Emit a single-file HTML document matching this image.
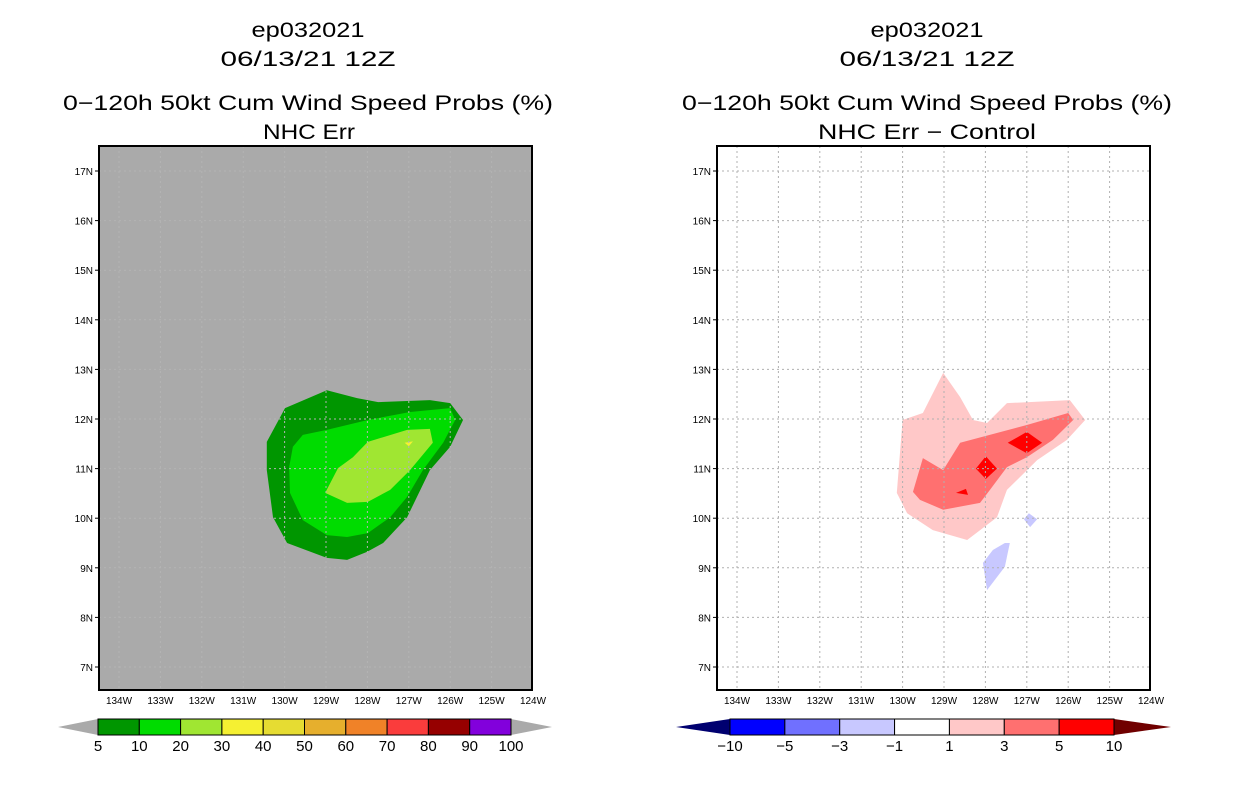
<!DOCTYPE html>
<html><head><meta charset="utf-8"><style>
body{margin:0;background:#fff;width:1236px;height:800px;overflow:hidden}
svg{display:block;font-family:"Liberation Sans",sans-serif}
</style></head><body>
<svg id="s" width="1236" height="800">
<g font-size="21" text-anchor="middle" fill="#000" lengthAdjust="spacingAndGlyphs">
<text x="308" y="37" textLength="113" lengthAdjust="spacingAndGlyphs">ep032021</text><text x="308" y="66" textLength="175" lengthAdjust="spacingAndGlyphs">06/13/21 12Z</text>
<text x="308" y="110" textLength="490" lengthAdjust="spacingAndGlyphs">0−120h 50kt Cum Wind Speed Probs (%)</text><text x="309" y="139" textLength="92" lengthAdjust="spacingAndGlyphs">NHC Err</text></g>
<g font-size="21" text-anchor="middle" fill="#000">
<text x="927" y="37" textLength="113" lengthAdjust="spacingAndGlyphs">ep032021</text><text x="927" y="66" textLength="175" lengthAdjust="spacingAndGlyphs">06/13/21 12Z</text>
<text x="927" y="110" textLength="490" lengthAdjust="spacingAndGlyphs">0−120h 50kt Cum Wind Speed Probs (%)</text><text x="927" y="139" textLength="218" lengthAdjust="spacingAndGlyphs">NHC Err − Control</text></g>
</svg>
<script>
const lonTicks=[134,133,132,131,130,129,128,127,126,125,124];
const latTicks=[7,8,9,10,11,12,13,14,15,16,17];
const leftLevels=["5","10","20","30","40","50","60","70","80","90","100"];
const leftColors=["#009600","#00dc00","#a0e632","#f5f032","#e6dc32","#e6af2d","#f08228","#fa3c3c","#960000","#8200dc"];
const rightLevels=["−10","−5","−3","−1","1","3","5","10"];
const rightColors=["#0000ff","#7070ff","#c8c8ff","#ffffff","#ffc8c8","#ff7070","#ff0000"];
const outerGreen=[[129.99,12.22],[128.98,12.58],[128.25,12.42],[127.74,12.34],[126.49,12.38],[126.0,12.32],[125.69,11.98],[126.0,11.44],[126.49,10.97],[127.04,10.02],[127.62,9.5],[128.01,9.32],[128.49,9.16],[128.98,9.2],[129.94,9.5],[130.28,10.02],[130.43,10.97],[130.43,11.54]];
const midGreen=[[129.56,11.68],[128.98,11.78],[127.99,11.98],[126.97,12.14],[126.0,12.22],[125.88,11.98],[126.17,11.52],[126.66,10.97],[127.04,10.43],[127.45,10.02],[127.99,9.7],[128.49,9.62],[128.98,9.66],[129.56,9.96],[129.87,10.51],[129.89,11.03],[129.8,11.44]];
const lightGreen=[[127.99,11.54],[127.04,11.78],[126.49,11.8],[126.42,11.52],[126.97,10.97],[127.45,10.57],[127.99,10.33],[128.49,10.31],[129.02,10.51],[128.71,11.01],[128.35,11.23]];
const yellowSpot=[[127.1,11.52],[126.9,11.55],[127.0,11.45]];
const pinkArea=[[129.02,12.93],[128.61,12.44],[128.3,11.98],[127.96,11.92],[127.48,12.32],[125.96,12.38],[125.59,11.98],[126.03,11.58],[126.75,11.17],[127.48,10.57],[127.72,10.02],[128.44,9.56],[129.27,9.76],[129.89,10.1],[130.14,10.51],[130.0,11.98],[129.51,12.12]];
const redArea=[[129.51,11.21],[129.02,10.97],[128.61,11.52],[127.0,11.88],[126.0,12.12],[125.88,11.98],[126.37,11.58],[127.0,11.23],[127.48,11.03],[127.89,10.57],[128.13,10.31],[129.02,10.17],[129.58,10.37],[129.75,10.53]];
const redDiamond1=[[127.46,11.52],[127.0,11.74],[126.63,11.52],[127.0,11.31]];
const redDiamond2=[[128.23,11.0],[127.99,11.25],[127.72,11.0],[127.99,10.79]];
const redSpot=[[128.71,10.51],[128.47,10.59],[128.42,10.47]];
const blueSmall=[[127.07,9.98],[126.95,10.1],[126.75,9.98],[126.92,9.82]];
const blueLarge=[[128.06,9.1],[127.82,9.36],[127.53,9.5],[127.41,9.5],[127.53,9.02],[127.96,8.55]];

const NS='http://www.w3.org/2000/svg', svg=document.getElementById('s');
function el(t,a,p){const e=document.createElementNS(NS,t);for(const k in a)e.setAttribute(k,a[k]);(p||svg).appendChild(e);return e;}
function panel(x0){
  const X=lon=>x0+20+(134-lon)*41.4, Y=lat=>171+(17-lat)*49.6;
  const g=el('g',{});
  return {X,Y,g,poly(pts,fill,name){const p=el('polygon',{points:pts.map(q=>X(q[0])+','+Y(q[1])).join(' '),fill:fill},g);
    
    }};
}
function frame(P,x0,bg,gridCol,name){
  const r=el('rect',{x:x0,y:146,width:433,height:544,fill:bg});
  
  
  svg.insertBefore(r,P.g);
  const gg=el('g',{stroke:gridCol,'stroke-width':1,'stroke-dasharray':'2,3'});
  
  
  lonTicks.forEach(l=>{const x=P.X(l);if(x>x0&&x<x0+433)el('line',{x1:x,x2:x,y1:146,y2:690},gg);});
  latTicks.forEach(l=>{const y=P.Y(l);el('line',{x1:x0,x2:x0+433,y1:y,y2:y},gg);});
  el('rect',{x:x0,y:146,width:433,height:544,fill:'none',stroke:'#000','stroke-width':2});
  lonTicks.forEach(l=>{const t=el('text',{x:P.X(l),y:704,'font-size':10,'text-anchor':'middle'});t.textContent=l+'W';
    
    });
  latTicks.forEach(l=>{const y=P.Y(l);el('line',{x1:x0-4,x2:x0,y1:y,y2:y,stroke:'#000'});
    const t=el('text',{x:x0-6,y:y+4,'font-size':10,'text-anchor':'end'});t.textContent=l+'N';
    
    });
}
const L=panel(99);
L.poly(outerGreen,leftColors[0],'contour-5');
L.poly(midGreen,leftColors[1],'contour-10');
L.poly(lightGreen,leftColors[2],'contour-20');
L.poly(yellowSpot,leftColors[3],'contour-30');
frame(L,99,'#aaaaaa','#b4b4b4','left-map');
const R=panel(717);
R.poly(pinkArea,rightColors[4],'contour-pos1');
R.poly(redArea,rightColors[5],'contour-pos3');
R.poly(redDiamond1,rightColors[6],'contour-pos5-a');
R.poly(redDiamond2,rightColors[6],'contour-pos5-b');
R.poly(redSpot,rightColors[6],'contour-pos5-c');
R.poly(blueSmall,rightColors[2],'contour-neg1-a');
R.poly(blueLarge,rightColors[2],'contour-neg1-b');
frame(R,717,'#ffffff','#b0b0b0','right-map');
function cbar(x0,x1,tl,tr,cols,labels,lcol,rcol,name){
  const g=el('g',{});
  
  
  const w=(x1-x0)/cols.length;
  el('polygon',{points:`${tl},727 ${x0},719 ${x0},735`,fill:lcol},g);
  el('polygon',{points:`${tr},727 ${x1},719 ${x1},735`,fill:rcol},g);
  cols.forEach((c,i)=>{const r=el('rect',{x:x0+i*w,y:719,width:w,height:16,fill:c,stroke:'#000','stroke-width':1},g);
    
    });
  labels.forEach((s,i)=>{const t=el('text',{x:x0+i*w,y:751,'font-size':15,'text-anchor':'middle'},g);t.textContent=s;});
}
cbar(98,511,58,552,leftColors,leftLevels,'#aaaaaa','#aaaaaa','left-colorbar');
cbar(730,1114,676,1171,rightColors,rightLevels,'#000070','#700000','right-colorbar');
</script>
</body></html>
